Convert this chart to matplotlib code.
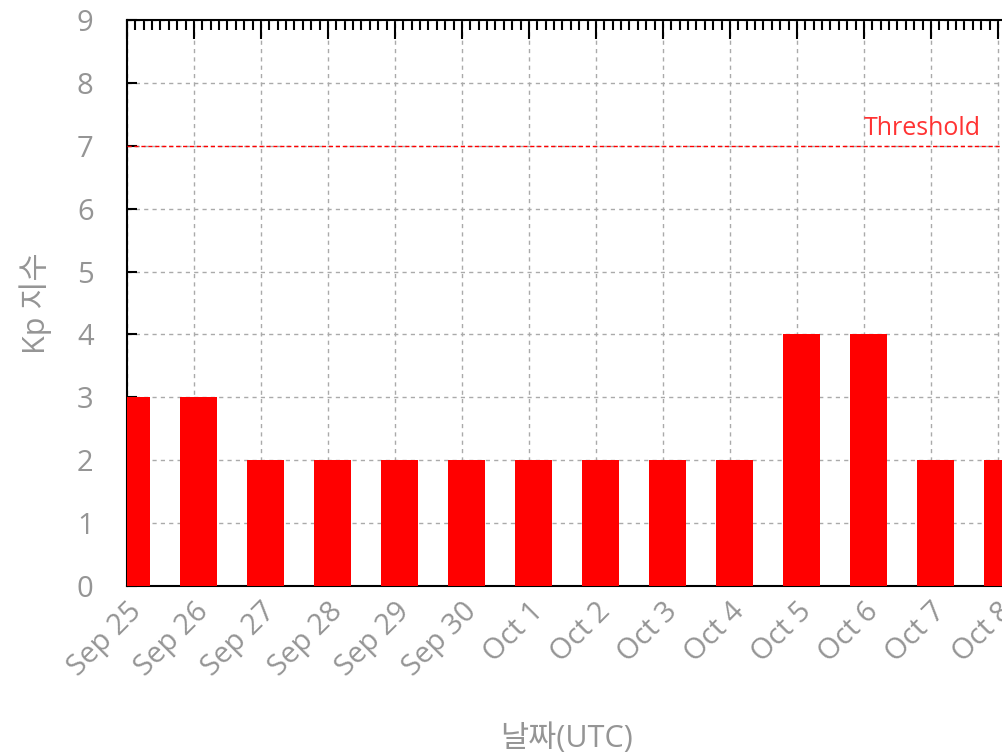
import matplotlib
matplotlib.use('Agg')
import matplotlib.pyplot as plt
from matplotlib.ticker import MultipleLocator

plt.rcParams['font.family'] = ['Open Sans', 'Noto Sans CJK KR', 'DejaVu Sans']

# data
days = ['Sep 25', 'Sep 26', 'Sep 27', 'Sep 28', 'Sep 29', 'Sep 30', 'Oct 1',
        'Oct 2', 'Oct 3', 'Oct 4', 'Oct 5', 'Oct 6', 'Oct 7', 'Oct 8']
kp = [3, 3, 2, 2, 2, 2, 2, 2, 2, 2, 4, 4, 2, 2]
threshold = 7

gray = '#959595'
fig = plt.figure(figsize=(10.02, 7.54), dpi=100)
ax = fig.add_axes([127 / 1002, 168 / 754, 880 / 1002, 566 / 754])

x = list(range(len(days)))
ax.bar([i + 0.067 for i in x], kp, width=0.55, color='#ff0000', zorder=3)

ax.axhline(threshold, color='#ff0000', lw=1, ls=(0, (3, 2)), zorder=4)
ax.text(12.75, threshold + 0.08, 'Threshold', color='#ff3333', fontsize=18,
        ha='right', va='bottom')

ax.set_xlim(0, 880 / 67)
ax.set_ylim(0, 9)
ax.set_xticks(x)
ax.set_xticklabels(days, rotation=45, ha='right', va='top', rotation_mode='anchor')
ax.xaxis.set_minor_locator(MultipleLocator(1 / 8))
ax.yaxis.set_major_locator(MultipleLocator(1))

ax.tick_params(axis='x', which='both', direction='in', bottom=False, top=True,
               labelbottom=True, colors='black', labelcolor=gray, labelsize=21, pad=8)
ax.tick_params(axis='x', which='major', length=14, width=1.5)
ax.tick_params(axis='x', which='minor', length=7, width=1.5)
ax.tick_params(axis='y', which='major', direction='in', left=True, right=False,
               length=7, width=1.5, labelcolor=gray, labelsize=21, pad=24)

for s in ax.spines.values():
    s.set_linewidth(1.5)
    s.set_color('black')

ax.grid(True, which='major', color='#aaaaaa', ls=(0, (3, 3)), lw=1, zorder=0)
ax.set_axisbelow(True)

ax.set_xlabel('날짜(UTC)', color=gray, fontsize=22, labelpad=30)
ax.set_ylabel('Kp 지수', color=gray, fontsize=22, labelpad=18)

fig.savefig('out.png', dpi=100)
